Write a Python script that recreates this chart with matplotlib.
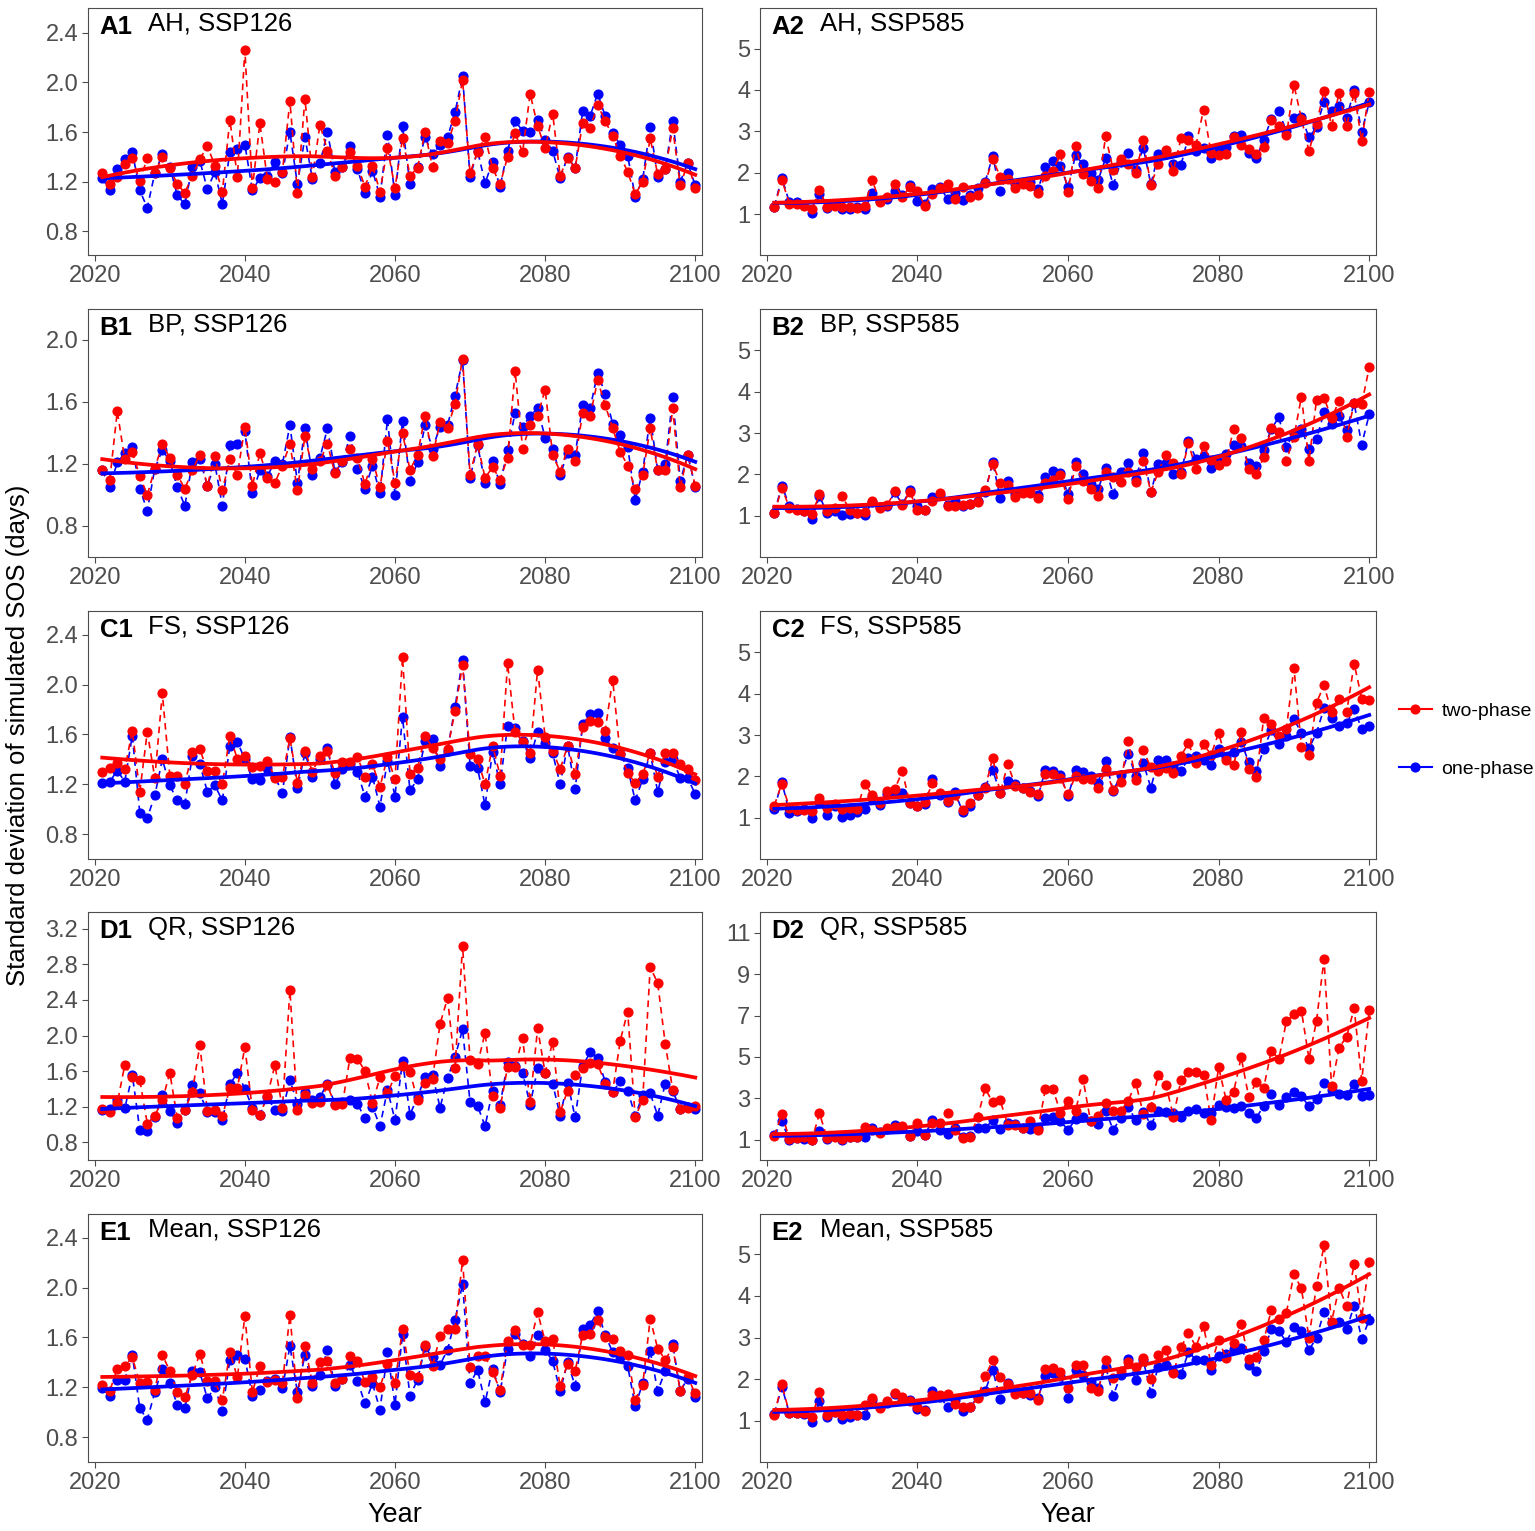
import matplotlib
matplotlib.use('Agg')
import matplotlib.pyplot as plt
from matplotlib.lines import Line2D
import numpy as np

plt.rcParams['font.family'] = ['Liberation Sans', 'DejaVu Sans']

years = np.arange(2021, 2101)

# one-phase (blue) and two-phase (red) SD of simulated SOS
a1_one = [1.23, 1.13, 1.30, 1.38, 1.44, 1.13, 0.99, 1.27, 1.42, 1.32, 1.09, 1.02, 1.32, 1.37, 1.14, 1.28, 1.02, 1.44, 1.46, 1.50,
          1.13, 1.23, 1.25, 1.36, 1.27, 1.60, 1.18, 1.56, 1.22, 1.35, 1.60, 1.28, 1.32, 1.49, 1.30, 1.11, 1.29, 1.08, 1.58, 1.09,
          1.65, 1.18, 1.32, 1.56, 1.42, 1.50, 1.56, 1.76, 2.05, 1.24, 1.45, 1.19, 1.36, 1.16, 1.45, 1.69, 1.61, 1.60, 1.70, 1.54,
          1.45, 1.23, 1.40, 1.31, 1.77, 1.73, 1.91, 1.73, 1.59, 1.50, 1.41, 1.08, 1.22, 1.64, 1.24, 1.30, 1.69, 1.20, 1.35, 1.17]
a1_two = [1.27, 1.18, 1.24, 1.34, 1.39, 1.21, 1.39, 1.27, 1.40, 1.31, 1.18, 1.11, 1.25, 1.38, 1.49, 1.33, 1.12, 1.70, 1.24, 2.26,
          1.15, 1.67, 1.22, 1.20, 1.28, 1.85, 1.11, 1.87, 1.24, 1.66, 1.45, 1.25, 1.32, 1.44, 1.33, 1.16, 1.33, 1.12, 1.47, 1.15,
          1.55, 1.25, 1.31, 1.60, 1.32, 1.53, 1.51, 1.69, 2.02, 1.27, 1.44, 1.56, 1.31, 1.18, 1.40, 1.59, 1.44, 1.91, 1.65, 1.47,
          1.75, 1.25, 1.39, 1.31, 1.67, 1.63, 1.82, 1.69, 1.57, 1.41, 1.28, 1.10, 1.20, 1.55, 1.26, 1.30, 1.63, 1.17, 1.35, 1.15]

a2_one = [1.18, 1.88, 1.28, 1.28, 1.22, 1.03, 1.48, 1.14, 1.25, 1.12, 1.12, 1.18, 1.13, 1.50, 1.32, 1.37, 1.55, 1.45, 1.70, 1.32,
          1.25, 1.60, 1.65, 1.37, 1.50, 1.35, 1.45, 1.62, 1.78, 2.40, 1.55, 2.00, 1.72, 1.75, 1.78, 1.60, 2.13, 2.27, 2.15, 1.65,
          2.42, 2.20, 1.98, 1.82, 2.35, 1.70, 2.25, 2.48, 2.07, 2.60, 1.72, 2.45, 2.45, 2.22, 2.18, 2.88, 2.52, 2.60, 2.35, 2.58,
          2.62, 2.88, 2.90, 2.47, 2.35, 2.80, 3.30, 3.48, 3.00, 3.32, 3.35, 2.85, 3.10, 3.72, 3.48, 3.60, 3.32, 4.00, 2.98, 3.70]
a2_two = [1.16, 1.83, 1.25, 1.24, 1.20, 1.12, 1.58, 1.18, 1.20, 1.16, 1.18, 1.15, 1.20, 1.82, 1.30, 1.40, 1.72, 1.42, 1.65, 1.55,
          1.20, 1.48, 1.62, 1.72, 1.37, 1.65, 1.40, 1.45, 1.75, 2.33, 1.90, 1.85, 1.62, 1.73, 1.68, 1.52, 1.93, 2.05, 2.45, 1.53,
          2.65, 1.97, 1.80, 1.63, 2.88, 2.07, 2.32, 2.22, 2.00, 2.78, 1.70, 2.20, 2.55, 2.05, 2.83, 2.80, 2.67, 3.52, 2.48, 2.42,
          2.45, 2.85, 2.68, 2.58, 2.45, 2.62, 3.28, 3.13, 2.90, 4.12, 3.30, 2.52, 3.18, 3.98, 3.13, 3.92, 3.12, 3.93, 2.77, 3.95]

b1_one = [1.16, 1.05, 1.21, 1.27, 1.31, 1.04, 0.90, 1.17, 1.29, 1.22, 1.05, 0.93, 1.21, 1.23, 1.06, 1.20, 0.93, 1.32, 1.33, 1.41,
          1.01, 1.16, 1.12, 1.22, 1.20, 1.45, 1.08, 1.43, 1.13, 1.24, 1.43, 1.15, 1.21, 1.38, 1.17, 1.04, 1.19, 1.01, 1.49, 1.00,
          1.48, 1.09, 1.21, 1.45, 1.30, 1.44, 1.45, 1.64, 1.87, 1.11, 1.32, 1.08, 1.22, 1.07, 1.29, 1.53, 1.44, 1.51, 1.56, 1.37,
          1.30, 1.13, 1.27, 1.26, 1.58, 1.56, 1.79, 1.65, 1.46, 1.39, 1.31, 0.97, 1.15, 1.50, 1.16, 1.20, 1.63, 1.09, 1.26, 1.05]
b1_two = [1.16, 1.10, 1.54, 1.23, 1.28, 1.12, 1.00, 1.17, 1.33, 1.24, 1.13, 1.04, 1.16, 1.26, 1.06, 1.25, 1.03, 1.23, 1.13, 1.44,
          1.06, 1.27, 1.11, 1.08, 1.19, 1.33, 1.03, 1.38, 1.17, 1.22, 1.33, 1.14, 1.22, 1.30, 1.24, 1.07, 1.23, 1.05, 1.35, 1.08,
          1.40, 1.16, 1.26, 1.51, 1.25, 1.47, 1.43, 1.59, 1.88, 1.13, 1.33, 1.11, 1.18, 1.10, 1.24, 1.80, 1.30, 1.45, 1.51, 1.68,
          1.26, 1.15, 1.30, 1.22, 1.53, 1.51, 1.74, 1.58, 1.43, 1.28, 1.19, 1.04, 1.13, 1.43, 1.16, 1.16, 1.56, 1.05, 1.26, 1.06]

b2_one = [1.07, 1.73, 1.25, 1.17, 1.13, 0.93, 1.48, 1.07, 1.13, 1.03, 1.05, 1.08, 1.03, 1.33, 1.22, 1.25, 1.57, 1.28, 1.62, 1.25,
          1.15, 1.45, 1.50, 1.27, 1.35, 1.25, 1.30, 1.37, 1.58, 2.30, 1.43, 1.85, 1.52, 1.58, 1.57, 1.50, 1.93, 2.08, 2.03, 1.53,
          2.30, 2.02, 1.78, 1.65, 2.15, 1.52, 2.05, 2.28, 1.90, 2.52, 1.57, 2.25, 2.28, 2.00, 2.05, 2.80, 2.38, 2.45, 2.15, 2.30,
          2.50, 2.70, 2.68, 2.28, 2.20, 2.60, 3.10, 3.38, 2.67, 3.00, 3.10, 2.62, 2.85, 3.50, 3.22, 3.40, 3.07, 3.72, 2.72, 3.45]
b2_two = [1.06, 1.68, 1.20, 1.15, 1.12, 1.04, 1.52, 1.12, 1.18, 1.48, 1.15, 1.07, 1.10, 1.37, 1.20, 1.26, 1.60, 1.27, 1.58, 1.14,
          1.15, 1.35, 1.55, 1.25, 1.23, 1.27, 1.28, 1.33, 1.62, 2.25, 1.80, 1.75, 1.45, 1.55, 1.55, 1.43, 1.80, 1.87, 1.98, 1.40,
          2.20, 1.85, 1.65, 1.47, 2.05, 1.93, 1.83, 2.05, 1.82, 2.33, 1.58, 2.07, 2.48, 2.28, 2.00, 2.75, 2.13, 2.68, 2.35, 2.23,
          2.33, 3.10, 2.87, 2.12, 2.00, 2.43, 3.12, 3.02, 2.33, 2.90, 3.88, 2.32, 3.80, 3.85, 3.35, 3.78, 2.90, 3.73, 3.70, 4.58]

c1_one = [1.21, 1.22, 1.31, 1.22, 1.59, 0.97, 0.93, 1.11, 1.40, 1.19, 1.07, 1.04, 1.43, 1.36, 1.14, 1.19, 1.07, 1.51, 1.54, 1.40,
          1.24, 1.23, 1.33, 1.26, 1.13, 1.58, 1.17, 1.45, 1.26, 1.40, 1.49, 1.20, 1.32, 1.36, 1.30, 1.10, 1.26, 1.02, 1.39, 1.10,
          1.74, 1.15, 1.24, 1.55, 1.56, 1.35, 1.47, 1.82, 2.20, 1.35, 1.33, 1.03, 1.46, 1.20, 1.67, 1.65, 1.55, 1.41, 1.62, 1.53,
          1.45, 1.20, 1.51, 1.16, 1.68, 1.76, 1.77, 1.57, 1.49, 1.44, 1.33, 1.07, 1.24, 1.45, 1.14, 1.38, 1.40, 1.25, 1.25, 1.12]
c1_two = [1.30, 1.33, 1.37, 1.32, 1.63, 1.14, 1.62, 1.25, 1.93, 1.27, 1.27, 1.20, 1.46, 1.48, 1.31, 1.31, 1.20, 1.59, 1.40, 1.43,
          1.34, 1.35, 1.39, 1.25, 1.26, 1.57, 1.21, 1.47, 1.30, 1.43, 1.47, 1.29, 1.38, 1.38, 1.42, 1.26, 1.36, 1.18, 1.42, 1.24,
          2.22, 1.28, 1.33, 1.59, 1.49, 1.40, 1.48, 1.79, 2.16, 1.44, 1.40, 1.20, 1.51, 1.27, 2.17, 1.62, 1.54, 1.45, 2.12, 1.58,
          1.47, 1.32, 1.51, 1.28, 1.66, 1.71, 1.70, 1.63, 2.04, 1.44, 1.29, 1.21, 1.28, 1.45, 1.26, 1.45, 1.45, 1.36, 1.32, 1.23]

c2_one = [1.22, 1.87, 1.13, 1.17, 1.22, 1.00, 1.38, 1.07, 1.30, 1.02, 1.08, 1.15, 1.22, 1.50, 1.32, 1.58, 1.65, 1.60, 1.37, 1.30,
          1.33, 1.95, 1.55, 1.38, 1.62, 1.15, 1.28, 1.55, 1.75, 2.15, 1.60, 1.90, 1.82, 1.72, 1.65, 1.52, 2.15, 2.12, 2.03, 1.52,
          2.15, 2.10, 2.00, 1.85, 2.38, 1.65, 2.03, 2.55, 2.00, 2.32, 1.73, 2.40, 2.40, 2.25, 2.12, 2.45, 2.50, 2.40, 2.27, 2.67,
          2.48, 2.58, 2.82, 2.35, 2.12, 2.67, 3.12, 2.78, 2.98, 3.38, 3.05, 2.68, 3.05, 3.65, 3.40, 3.22, 3.28, 3.62, 3.15, 3.22]
c2_two = [1.30, 1.83, 1.25, 1.20, 1.20, 1.16, 1.48, 1.25, 1.33, 1.22, 1.25, 1.22, 1.82, 1.55, 1.35, 1.65, 1.70, 2.12, 1.35, 1.28,
          1.38, 1.85, 1.60, 1.42, 1.55, 1.20, 1.37, 1.55, 1.72, 2.45, 1.60, 2.30, 1.78, 1.72, 1.62, 1.58, 2.05, 2.05, 1.97, 1.57,
          2.02, 1.93, 1.93, 1.72, 2.17, 1.67, 1.87, 2.85, 1.92, 2.63, 2.22, 2.13, 2.20, 2.08, 2.50, 2.80, 2.32, 2.78, 2.52, 3.05,
          2.40, 2.27, 3.08, 2.17, 1.98, 3.42, 3.27, 2.98, 3.15, 4.62, 2.72, 2.52, 3.78, 4.20, 3.55, 3.88, 3.55, 4.72, 3.88, 3.85]

d1_one = [1.16, 1.17, 1.27, 1.18, 1.56, 0.94, 0.93, 1.08, 1.33, 1.15, 1.02, 1.16, 1.44, 1.35, 1.14, 1.14, 1.05, 1.45, 1.58, 1.40,
          1.19, 1.11, 1.31, 1.16, 1.15, 1.50, 1.23, 1.37, 1.27, 1.31, 1.46, 1.23, 1.25, 1.28, 1.23, 1.07, 1.20, 0.98, 1.39, 1.05,
          1.71, 1.11, 1.31, 1.53, 1.56, 1.19, 1.52, 1.76, 2.07, 1.25, 1.21, 0.98, 1.38, 1.22, 1.70, 1.66, 1.58, 1.22, 1.63, 1.58,
          1.46, 1.10, 1.47, 1.08, 1.66, 1.81, 1.75, 1.48, 1.36, 1.49, 1.38, 1.10, 1.33, 1.35, 1.10, 1.46, 1.38, 1.17, 1.20, 1.17]
d1_two = [1.17, 1.14, 1.24, 1.67, 1.53, 1.50, 1.01, 1.10, 1.27, 1.58, 1.07, 1.16, 1.37, 1.89, 1.15, 1.16, 1.09, 1.41, 1.41, 1.87,
          1.16, 1.11, 1.32, 1.67, 1.18, 2.51, 1.16, 1.33, 1.24, 1.25, 1.44, 1.22, 1.23, 1.75, 1.74, 1.60, 1.24, 1.53, 1.35, 1.55,
          1.66, 1.59, 1.27, 1.47, 1.51, 2.13, 2.42, 1.64, 3.01, 1.72, 1.68, 2.03, 1.32, 1.18, 1.65, 1.65, 1.97, 1.25, 2.08, 1.58,
          1.93, 1.14, 1.38, 1.56, 1.63, 1.69, 1.68, 1.46, 1.37, 1.94, 2.27, 1.08, 1.28, 2.77, 2.59, 1.91, 1.39, 1.17, 1.19, 1.21]

d2_one = [1.22, 1.88, 0.98, 1.08, 1.05, 0.98, 1.40, 1.02, 1.20, 0.98, 1.12, 1.15, 1.15, 1.55, 1.38, 1.50, 1.72, 1.58, 1.20, 1.40,
          1.25, 1.95, 1.45, 1.30, 1.58, 1.12, 1.20, 1.58, 1.55, 1.95, 1.52, 1.80, 1.75, 1.58, 1.50, 1.55, 2.03, 2.08, 1.88, 1.48,
          1.98, 2.10, 1.88, 1.78, 2.40, 1.48, 2.05, 2.60, 1.93, 2.35, 1.72, 2.40, 2.35, 2.30, 2.10, 2.40, 2.48, 2.30, 2.30, 2.70,
          2.58, 2.55, 2.65, 2.28, 2.05, 2.65, 3.20, 2.70, 3.05, 3.32, 3.10, 2.62, 2.95, 3.72, 3.38, 3.20, 3.15, 3.70, 3.12, 3.18]
d2_two = [1.18, 2.25, 1.05, 1.10, 1.12, 1.00, 2.28, 1.08, 1.12, 1.02, 1.12, 1.15, 1.60, 1.48, 1.32, 1.55, 1.60, 1.65, 1.20, 1.80,
          1.25, 1.80, 1.82, 2.28, 1.45, 1.10, 1.15, 2.08, 3.48, 2.80, 2.90, 1.72, 1.72, 1.58, 1.88, 1.48, 3.45, 3.45, 2.30, 2.88,
          2.40, 3.92, 1.88, 2.15, 2.75, 2.38, 2.38, 2.88, 3.75, 2.25, 2.58, 4.15, 3.65, 2.12, 3.88, 4.25, 4.28, 4.15, 1.95, 4.50,
          2.92, 3.32, 4.98, 3.05, 3.80, 3.52, 5.30, 4.90, 6.72, 7.05, 7.22, 4.92, 6.75, 9.72, 3.58, 5.45, 5.98, 7.35, 3.85, 7.25]

e1_one = [1.19, 1.13, 1.26, 1.26, 1.46, 1.03, 0.94, 1.16, 1.35, 1.23, 1.06, 1.03, 1.33, 1.32, 1.11, 1.20, 1.01, 1.42, 1.46, 1.43,
          1.13, 1.18, 1.25, 1.27, 1.19, 1.53, 1.16, 1.46, 1.21, 1.30, 1.50, 1.21, 1.27, 1.38, 1.25, 1.07, 1.23, 1.02, 1.48, 1.06,
          1.63, 1.13, 1.26, 1.52, 1.44, 1.38, 1.50, 1.74, 2.03, 1.23, 1.34, 1.08, 1.35, 1.16, 1.51, 1.63, 1.55, 1.45, 1.62, 1.50,
          1.41, 1.17, 1.40, 1.21, 1.67, 1.70, 1.81, 1.62, 1.48, 1.44, 1.37, 1.05, 1.23, 1.49, 1.17, 1.33, 1.55, 1.17, 1.27, 1.12]
e1_two = [1.22, 1.17, 1.35, 1.37, 1.44, 1.23, 1.24, 1.18, 1.46, 1.33, 1.16, 1.12, 1.30, 1.47, 1.25, 1.25, 1.10, 1.48, 1.28, 1.77,
          1.16, 1.37, 1.24, 1.26, 1.23, 1.78, 1.11, 1.53, 1.23, 1.40, 1.41, 1.23, 1.27, 1.45, 1.41, 1.24, 1.28, 1.20, 1.39, 1.23,
          1.67, 1.30, 1.28, 1.54, 1.37, 1.61, 1.67, 1.67, 2.22, 1.36, 1.45, 1.45, 1.32, 1.18, 1.57, 1.66, 1.54, 1.54, 1.80, 1.57,
          1.59, 1.21, 1.39, 1.33, 1.62, 1.63, 1.74, 1.60, 1.59, 1.49, 1.46, 1.10, 1.22, 1.75, 1.51, 1.42, 1.52, 1.17, 1.28, 1.15]

e2_one = [1.17, 1.82, 1.18, 1.18, 1.17, 0.98, 1.47, 1.08, 1.20, 1.05, 1.08, 1.15, 1.13, 1.50, 1.33, 1.43, 1.65, 1.50, 1.50, 1.28,
          1.25, 1.72, 1.58, 1.33, 1.50, 1.23, 1.32, 1.58, 1.72, 2.22, 1.52, 1.90, 1.72, 1.68, 1.62, 1.55, 2.07, 2.15, 2.08, 1.55,
          2.22, 2.10, 1.93, 1.78, 2.30, 1.60, 2.10, 2.48, 1.97, 2.45, 1.68, 2.30, 2.33, 2.17, 2.12, 2.65, 2.47, 2.45, 2.23, 2.55,
          2.60, 2.72, 2.75, 2.35, 2.20, 2.68, 3.20, 3.15, 2.90, 3.25, 3.17, 2.70, 3.00, 3.62, 3.35, 3.38, 3.20, 3.77, 2.97, 3.42]
e2_two = [1.15, 1.88, 1.18, 1.18, 1.18, 1.08, 1.70, 1.15, 1.20, 1.13, 1.17, 1.15, 1.38, 1.55, 1.30, 1.47, 1.67, 1.57, 1.48, 1.32,
          1.23, 1.62, 1.62, 1.65, 1.40, 1.33, 1.32, 1.55, 2.07, 2.45, 2.05, 1.88, 1.65, 1.67, 1.68, 1.50, 2.25, 2.27, 2.18, 1.80,
          2.33, 2.33, 1.80, 1.72, 2.47, 2.03, 2.20, 2.42, 2.30, 2.50, 2.00, 2.58, 2.70, 2.15, 2.77, 3.10, 2.78, 3.28, 2.35, 2.95,
          2.50, 2.88, 3.32, 2.48, 2.53, 2.93, 3.67, 3.45, 3.60, 4.52, 4.18, 3.00, 4.25, 5.22, 3.38, 4.20, 3.75, 4.78, 3.48, 4.82]

tags = ['A1', 'A2', 'B1', 'B2', 'C1', 'C2', 'D1', 'D2', 'E1', 'E2']
titles = ['AH, SSP126', 'AH, SSP585', 'BP, SSP126', 'BP, SSP585', 'FS, SSP126', 'FS, SSP585',
          'QR, SSP126', 'QR, SSP585', 'Mean, SSP126', 'Mean, SSP585']
one_phase = [a1_one, a2_one, b1_one, b2_one, c1_one, c2_one, d1_one, d2_one, e1_one, e2_one]
two_phase = [a1_two, a2_two, b1_two, b2_two, c1_two, c2_two, d1_two, d2_two, e1_two, e2_two]
ylims = [(0.61, 2.6), (0.01, 5.98), (0.6, 2.2), (0.01, 5.99), (0.6, 2.59), (0.01, 5.99),
         (0.6, 3.39), (0.02, 12.0), (0.6, 2.59), (0.01, 5.97)]
yticks = [[0.8, 1.2, 1.6, 2.0, 2.4], [1, 2, 3, 4, 5], [0.8, 1.2, 1.6, 2.0], [1, 2, 3, 4, 5],
          [0.8, 1.2, 1.6, 2.0, 2.4], [1, 2, 3, 4, 5], [0.8, 1.2, 1.6, 2.0, 2.4, 2.8, 3.2],
          [1, 3, 5, 7, 9, 11], [0.8, 1.2, 1.6, 2.0, 2.4], [1, 2, 3, 4, 5]]


def loess(x, y, span=0.75):
    # local quadratic fit with tricube weights, like R's loess default
    x = np.asarray(x, float)
    y = np.asarray(y, float)
    q = int(np.floor(len(x) * span))
    fit = []
    for x0 in x:
        d = np.abs(x - x0)
        h = np.sort(d)[q - 1]
        w = np.clip(1 - (d / h) ** 3, 0, None) ** 3
        c = np.polyfit(x - x0, y, 2, w=np.sqrt(w))
        fit.append(c[-1])
    return np.array(fit)


W, H = 1535, 1531
cols = [(88, 702), (760, 1376)]
rows = [(8, 255), (309, 557), (611, 859), (912, 1160), (1214, 1462)]
grey = '#4D4D4D'

fig = plt.figure(figsize=(W / 100, H / 100), dpi=100)

for i in range(10):
    l, r = cols[i % 2]
    t, b = rows[i // 2]
    ax = fig.add_axes([l / W, 1 - b / H, (r - l) / W, (b - t) / H])
    one = np.array(one_phase[i])
    two = np.array(two_phase[i])
    ax.plot(years, one, color='blue', ls=(0, (4, 3)), lw=1.2, marker='o', ms=6.3, zorder=2)
    ax.plot(years, two, color='red', ls=(0, (4, 3)), lw=1.2, marker='o', ms=6.3, zorder=3)
    ax.plot(years, loess(years, one), color='blue', lw=2.7, zorder=4)
    ax.plot(years, loess(years, two), color='red', lw=2.7, zorder=5)
    ax.set_xlim(2019.1, 2100.9)
    ax.set_ylim(*ylims[i])
    ax.set_xticks([2020, 2040, 2060, 2080, 2100])
    ax.set_yticks(yticks[i])
    if i % 2 == 1:
        ax.set_yticklabels(['%d' % v for v in yticks[i]])
    else:
        ax.set_yticklabels(['%.1f' % v for v in yticks[i]])
    ax.tick_params(labelsize=17, colors=grey, length=4, width=0.8, pad=3)
    for s in ax.spines.values():
        s.set_color(grey)
        s.set_linewidth(0.8)
    ax.text(0.019, 0.972, tags[i], transform=ax.transAxes, fontsize=18.5, fontweight='bold',
            va='top', ha='left')
    ax.text(0.098, 0.985, titles[i], transform=ax.transAxes, fontsize=18.5, va='top', ha='left')

fig.text(0.012, 1 - 735 / H, 'Standard deviation of simulated SOS (days)', rotation=90,
         fontsize=18.5, va='center', ha='center')
fig.text((88 + 702) / 2 / W, 1 - 1515 / H, 'Year', fontsize=19.5, ha='center', va='center')
fig.text((760 + 1376) / 2 / W, 1 - 1515 / H, 'Year', fontsize=19.5, ha='center', va='center')

handles = [Line2D([], [], color='red', lw=1.5, marker='o', ms=6.3),
           Line2D([], [], color='blue', lw=1.5, marker='o', ms=6.3)]
fig.legend(handles, ['two-phase', 'one-phase'], loc='center left',
           bbox_to_anchor=(1381 / W, 1 - 740 / H), frameon=False, fontsize=14,
           handlelength=1.7, handletextpad=0.5, labelspacing=2.1)

fig.savefig('out.png', dpi=100)
